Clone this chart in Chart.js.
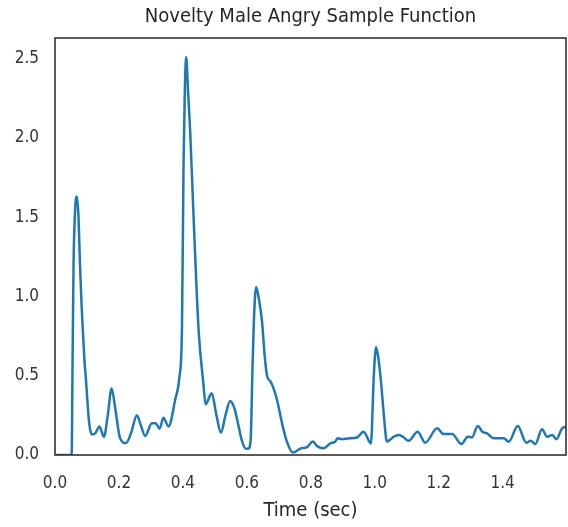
<!DOCTYPE html>
<html>
<head>
<meta charset="utf-8">
<script src="https://cdn.jsdelivr.net/npm/chart.js@4"></script>
<style>
  body { margin: 0; background: #fff; }
</style>
</head>
<body>
<canvas id="myChart" width="568" height="527"></canvas>
<script>
// time (sec) and novelty value
const times = [0.000, 0.052, 0.055, 0.058, 0.063, 0.068, 0.073, 0.078, 0.083, 0.087, 0.092, 0.097, 0.102, 0.107,
    0.115, 0.127, 0.139, 0.153, 0.165, 0.177, 0.188, 0.203, 0.222, 0.238,
    0.256, 0.268, 0.282, 0.303, 0.315, 0.327, 0.339, 0.355, 0.376, 0.389,
    0.397, 0.402, 0.406, 0.410, 0.416, 0.4225, 0.435, 0.449, 0.464, 0.471, 0.490,
    0.505, 0.519, 0.533, 0.548, 0.560, 0.569, 0.584, 0.597, 0.605, 0.612,
    0.617, 0.622, 0.629, 0.638, 0.647, 0.656, 0.663, 0.675, 0.694, 0.710,
    0.725, 0.744, 0.767, 0.788, 0.807, 0.819, 0.840, 0.861, 0.876, 0.884,
    0.897, 0.920, 0.944, 0.965, 0.988, 0.997, 1.004, 1.012, 1.020, 1.028,
    1.038, 1.050, 1.059, 1.075, 1.088, 1.106, 1.134, 1.158, 1.195, 1.215,
    1.242, 1.271, 1.291, 1.304, 1.322, 1.336, 1.351, 1.372, 1.403, 1.419,
    1.447, 1.474, 1.487, 1.502, 1.523, 1.539, 1.555, 1.568, 1.586, 1.600];
const novelty = [0, 0, 0.6, 1.2, 1.55, 1.63, 1.52, 1.21, 0.95, 0.79, 0.6, 0.47, 0.32, 0.2,
    0.13, 0.14, 0.18, 0.115, 0.25, 0.42, 0.3, 0.11, 0.075, 0.14,
    0.25, 0.19, 0.12, 0.2, 0.2, 0.165, 0.235, 0.18, 0.35, 0.49,
    0.79, 1.84, 2.3, 2.51, 2.3, 2.05, 1.42, 0.79, 0.45, 0.32, 0.39,
    0.25, 0.14, 0.25, 0.34, 0.3, 0.23, 0.094, 0.04, 0.04, 0.1,
    0.5, 0.85, 1.06, 0.98, 0.85, 0.62, 0.5, 0.46, 0.35, 0.2,
    0.085, 0.015, 0.04, 0.05, 0.085, 0.057, 0.042, 0.073, 0.084, 0.105,
    0.1, 0.105, 0.11, 0.147, 0.073, 0.5, 0.68, 0.6, 0.45, 0.26,
    0.085, 0.1, 0.115, 0.126, 0.115, 0.09, 0.147, 0.078, 0.168, 0.132,
    0.132, 0.069, 0.115, 0.111, 0.183, 0.147, 0.137, 0.105, 0.105, 0.084,
    0.183, 0.078, 0.09, 0.069, 0.162, 0.115, 0.126, 0.099, 0.168, 0.178];
const xTicks = [0.0, 0.2, 0.4, 0.6, 0.8, 1.0, 1.2, 1.4];
const yTicks = [0.0, 0.5, 1.0, 1.5, 2.0, 2.5];

const points = times.map((t, i) => ({ x: t, y: novelty[i] }));

// cornice scura attorno all'area del grafico
const boxPlugin = {
    id: 'box',
    afterDraw(chart) {
        const a = chart.chartArea;
        const ctx = chart.ctx;
        ctx.save();
        ctx.strokeStyle = '#333';
        ctx.lineWidth = 1.6;
        ctx.strokeRect(a.left, a.top, a.right - a.left, a.bottom - a.top);
        ctx.restore();
    }
};

const font = 'DejaVu Sans Condensed';

const ctx = document.getElementById('myChart').getContext('2d');
new Chart(ctx, {
    type: 'scatter',
    data: {
        datasets: [{
            data: points,
            showLine: true,
            borderColor: '#1f77b4',
            borderWidth: 2.5,
            pointRadius: 0,
            cubicInterpolationMode: 'monotone',
            fill: false
        }]
    },
    options: {
        responsive: false,
        animation: false,
        layout: { padding: { top: 0, right: 2, left: 0, bottom: 0 } },
        scales: {
            x: {
                type: 'linear',
                min: 0,
                max: 1.598,
                grid: { display: false, drawTicks: false },
                border: { display: false },
                afterBuildTicks: (s) => { s.ticks = xTicks.map(v => ({ value: v })); },
                afterFit: (s) => { s.height = 72; },
                ticks: {
                    padding: 18,
                    color: '#333',
                    font: { family: font, size: 17 },
                    callback: (v) => v.toFixed(1)
                },
                title: {
                    display: true,
                    text: 'Time (sec)',
                    color: '#262626',
                    font: { family: font, size: 20 },
                    padding: { top: 0 }
                }
            },
            y: {
                min: 0,
                max: 2.63,
                grid: { display: false, drawTicks: false },
                border: { display: false },
                afterBuildTicks: (s) => { s.ticks = yTicks.map(v => ({ value: v })); },
                afterFit: (s) => { s.width = 55; },
                ticks: {
                    padding: 16,
                    color: '#333',
                    font: { family: font, size: 17 },
                    callback: (v) => v.toFixed(1)
                }
            }
        },
        plugins: {
            legend: { display: false },
            tooltip: { enabled: false },
            title: {
                display: true,
                fullSize: false,
                text: 'Novelty Male Angry Sample Function',
                color: '#262626',
                font: { family: font, size: 20, weight: 'normal' },
                padding: { top: 5, bottom: 9 }
            }
        }
    },
    plugins: [boxPlugin]
});
</script>
</body>
</html>
